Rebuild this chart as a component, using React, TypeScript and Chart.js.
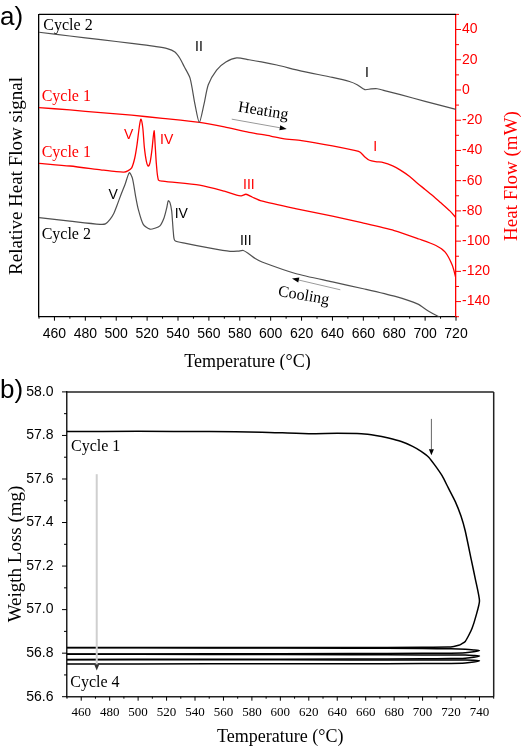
import React, { useEffect, useRef } from "react";
import { Chart, registerables } from "chart.js";
Chart.register(...registerables);

const SANS = '"Liberation Sans", Arial, sans-serif';
const SERIF = '"Liberation Serif", "Times New Roman", serif';
const RED = "#ff0000";
const GRAY = "#505050";
const BLACK = "#000000";

// ---------------- Panel a: DSC heat flow (mW) vs temperature (°C)
const heat2Temp = [450, 470, 490, 510, 525, 533, 538, 541.3, 544, 547.8, 551, 553.8, 556.8, 559.6, 565, 571, 578, 586, 594, 604, 620, 640, 651, 656, 661, 665, 669, 675, 684, 700, 720];
const heat2Flow = [38.2, 35.7, 33.3, 30.8, 28.8, 27.4, 25.1, 20.8, 15.5, 7.8, -9.6, -21.5, -9.6, 3.5, 13.2, 18.5, 21.2, 20.0, 18.6, 16.5, 12.5, 8.3, 5.6, 3.5, 0.2, 0.7, 0.8, -0.8, -3.1, -7.5, -12.8];

const heat1Temp = [450, 470, 490, 510, 530, 554, 570, 586, 600, 608, 620, 640, 655, 658, 661, 664, 668, 673, 679, 684, 690, 695, 700, 705, 710, 716, 720];
const heat1Flow = [-11.7, -13.2, -15.0, -16.7, -18.8, -21.5, -24.4, -28.0, -30.5, -32.2, -33.5, -37.0, -40.2, -41.2, -44.3, -46.5, -47.4, -48.0, -50.2, -53.0, -57.2, -61.7, -65.8, -70.0, -74.5, -80.0, -84.5];

const cool1Temp = [450, 470, 490, 500, 505, 507.5, 510, 512, 513.5, 515, 516, 517.2, 518.2, 519.5, 520.8, 522, 523.2, 524.5, 525.3, 526, 527.3, 530, 554, 570, 578, 581, 584, 588, 594, 616, 640, 659, 680, 696, 707, 713, 717.6, 720];
const cool1Flow = [-48.5, -50.3, -52.8, -54.0, -54.3, -53.5, -51.5, -45, -36, -24, -19.3, -25, -37.8, -47, -50.4, -47.5, -39, -27, -38, -49, -59.5, -60.3, -63.0, -67.0, -69.6, -70.0, -69.0, -70.8, -73.4, -78.5, -83.5, -87.8, -93.0, -98.6, -102.9, -107.3, -116.0, -124.7];

const cool2Temp = [450, 470, 489.5, 493, 496, 498.5, 500.3, 503, 505.7, 508.5, 510.5, 512.5, 514.3, 517.5, 521.9, 525, 528.3, 531, 532.7, 533.7, 534.8, 535.9, 537, 538, 545, 560, 573.7, 579, 582.3, 586, 590, 594.4, 616, 640, 660, 680.7, 695, 702.3, 708, 712];
const cool2Flow = [-84.5, -86.8, -88.9, -88.6, -85.6, -81.5, -76.9, -69.5, -62.5, -54.7, -58.5, -70, -79, -88.9, -92.1, -91.5, -89.9, -84.5, -78.0, -73.3, -74.5, -80, -94.3, -99.7, -101.5, -104.5, -106.8, -106.6, -106.2, -108.5, -111.5, -113.8, -121.4, -127, -131.5, -136.6, -141.5, -146.4, -149.5, -151];

const aRightTickLabels = [-140, -120, -100, -80, -60, -40, -20, 0, 20, 40];
const aTempTickLabels = [460, 480, 500, 520, 540, 560, 580, 600, 620, 640, 660, 680, 700, 720];

// ---------------- Panel b: TGA weight (mg) vs temperature (°C)
const cyc1Temp = [450, 500, 550, 587, 620, 640, 657, 667, 676, 685, 693, 699, 704.3, 709, 713.7, 718, 723, 727, 730, 734.3, 737.2, 740, 737.5, 734.8, 732.3, 730, 727.5, 725.4, 722, 718, 700, 650, 600, 550, 500, 450];
const cyc1Weight = [57.818, 57.819, 57.818, 57.815, 57.808, 57.81, 57.808, 57.8, 57.788, 57.772, 57.75, 57.727, 57.7, 57.66, 57.615, 57.56, 57.496, 57.43, 57.361, 57.227, 57.137, 57.04, 56.97, 56.914, 56.88, 56.854, 56.843, 56.836, 56.831, 56.828, 56.827, 56.826, 56.826, 56.826, 56.826, 56.826];

const loopTemp = [450, 550, 650, 700, 720, 730, 736, 740, 736, 730, 720, 700, 650, 550, 450];
const cyc2Weight = [56.825, 56.824, 56.823, 56.821, 56.82, 56.818, 56.815, 56.812, 56.806, 56.802, 56.8, 56.799, 56.798, 56.797, 56.796];
const cyc3Weight = [56.795, 56.794, 56.793, 56.792, 56.792, 56.791, 56.789, 56.787, 56.781, 56.777, 56.775, 56.774, 56.773, 56.772, 56.771];
const cyc4Weight = [56.77, 56.77, 56.769, 56.769, 56.769, 56.768, 56.767, 56.765, 56.759, 56.755, 56.753, 56.752, 56.751, 56.751, 56.75];

const bWeightTickLabels = [56.6, 56.8, 57.0, 57.2, 57.4, 57.6, 57.8, 58.0];
const bTempTickLabels = [460, 480, 500, 520, 540, 560, 580, 600, 620, 640, 660, 680, 700, 720, 740];

// ---------------- Annotations (data coordinates)
type Note = { text: string; x: number; y: number; color: string; font: string; align?: CanvasTextAlign; rot?: number };
type Arrow = { x1: number; y1: number; x2: number; y2: number; color: string; width: number; head: string; len?: number; hw?: number };

const ROMAN = `14px ${SANS}`;
const CYC = `16px ${SERIF}`;
const aNotes: Note[] = [
  { text: "Cycle 2", x: 452.8, y: 42.7, color: BLACK, font: CYC, align: "left" },
  { text: "II", x: 553.6, y: 28.4, color: BLACK, font: ROMAN },
  { text: "I", x: 662.4, y: 11.1, color: BLACK, font: ROMAN },
  { text: "Cycle 1", x: 451.7, y: -4.7, color: RED, font: CYC, align: "left" },
  { text: "Heating", x: 595.2, y: -14.1, color: BLACK, font: CYC, rot: 9 },
  { text: "I", x: 667.6, y: -38.0, color: RED, font: ROMAN },
  { text: "Cycle 1", x: 451.7, y: -41.4, color: RED, font: CYC, align: "left" },
  { text: "V", x: 508.1, y: -30.2, color: RED, font: ROMAN },
  { text: "IV", x: 532.7, y: -33.5, color: RED, font: ROMAN },
  { text: "III", x: 585.9, y: -62.8, color: RED, font: ROMAN },
  { text: "V", x: 498.1, y: -69.3, color: BLACK, font: ROMAN },
  { text: "IV", x: 542.1, y: -82.3, color: BLACK, font: ROMAN },
  { text: "III", x: 583.9, y: -99.7, color: BLACK, font: ROMAN },
  { text: "Cycle 2", x: 451.7, y: -95.6, color: BLACK, font: CYC, align: "left" },
  { text: "Cooling", x: 621.4, y: -136.3, color: BLACK, font: CYC, rot: 10 },
];
const aArrows: Arrow[] = [
  { x1: 574.8, y1: -19.3, x2: 610.4, y2: -25.8, color: "#9a9a9a", width: 1, head: BLACK },
  { x1: 645.1, y1: -132.2, x2: 613.8, y2: -124.7, color: "#9a9a9a", width: 1, head: BLACK },
];
const bNotes: Note[] = [
  { text: "Cycle 1", x: 452.8, y: 57.749, color: BLACK, font: CYC, align: "left" },
  { text: "Cycle 4", x: 452.3, y: 56.664, color: BLACK, font: CYC, align: "left" },
];
const bArrows: Arrow[] = [
  { x1: 470.9, y1: 57.622, x2: 470.9, y2: 56.72, color: "#cfcfcf", width: 2, head: "#333", len: 6, hw: 2.5 },
  { x1: 706.2, y1: 57.876, x2: 706.2, y2: 57.709, color: "#666", width: 1, head: BLACK, len: 6, hw: 2.5 },
];

type Title = { text: string; x: number; y: number; font: string; color: string; rot?: number; align?: CanvasTextAlign };
type TickSpec = { id: string; major: (v: number) => boolean; majorLen: number; minorLen: number; color: string };

const pts = (xs: number[], ys: number[]) => xs.map((x, i) => ({ x, y: ys[i] }));

function drawArrow(ctx: CanvasRenderingContext2D, a: Arrow, x1: number, y1: number, x2: number, y2: number) {
  const len = a.len ?? 7;
  const hw = a.hw ?? 2.5;
  const ang = Math.atan2(y2 - y1, x2 - x1);
  const c = Math.cos(ang), s = Math.sin(ang);
  ctx.save();
  ctx.strokeStyle = a.color;
  ctx.lineWidth = a.width;
  ctx.beginPath();
  ctx.moveTo(x1, y1);
  ctx.lineTo(x2 - len * c, y2 - len * s);
  ctx.stroke();
  ctx.fillStyle = a.head;
  ctx.beginPath();
  ctx.moveTo(x2, y2);
  ctx.lineTo(x2 - len * c + hw * s, y2 - len * s - hw * c);
  ctx.lineTo(x2 - len * c - hw * s, y2 - len * s + hw * c);
  ctx.closePath();
  ctx.fill();
  ctx.restore();
}

function decor(opts: {
  xId: string; yId: string; notes: Note[]; arrows: Arrow[]; titles: Title[]; ticks: TickSpec[];
  frame: { top?: boolean; right?: boolean; color: string; width: number };
}) {
  return {
    id: "decor",
    afterDraw(chart: any) {
      const ctx: CanvasRenderingContext2D = chart.ctx;
      const area = chart.chartArea;
      const xs = chart.scales[opts.xId];
      const ys = chart.scales[opts.yId];
      ctx.save();
      // frame
      ctx.strokeStyle = opts.frame.color;
      ctx.lineWidth = opts.frame.width;
      if (opts.frame.top) {
        ctx.beginPath();
        ctx.moveTo(area.left, area.top);
        ctx.lineTo(area.right, area.top);
        ctx.stroke();
      }
      if (opts.frame.right) {
        ctx.beginPath();
        ctx.moveTo(area.right, area.top);
        ctx.lineTo(area.right, area.bottom);
        ctx.stroke();
      }
      // ticks
      for (const t of opts.ticks) {
        const sc = chart.scales[t.id];
        ctx.strokeStyle = t.color;
        ctx.lineWidth = 1;
        for (const tk of sc.ticks) {
          const L = t.major(tk.value) ? t.majorLen : t.minorLen;
          const p = sc.getPixelForValue(tk.value);
          ctx.beginPath();
          if (sc.isHorizontal()) {
            ctx.moveTo(p, area.bottom);
            ctx.lineTo(p, area.bottom + L);
          } else if (sc.position === "left") {
            ctx.moveTo(area.left, p);
            ctx.lineTo(area.left - L, p);
          } else {
            ctx.moveTo(area.right, p);
            ctx.lineTo(area.right + L, p);
          }
          ctx.stroke();
        }
      }
      // titles
      for (const ti of opts.titles) {
        ctx.save();
        ctx.translate(ti.x, ti.y);
        if (ti.rot) ctx.rotate((ti.rot * Math.PI) / 180);
        ctx.font = ti.font;
        ctx.fillStyle = ti.color;
        ctx.textAlign = ti.align ?? "center";
        ctx.textBaseline = "middle";
        ctx.fillText(ti.text, 0, 0);
        ctx.restore();
      }
      // arrows
      for (const a of opts.arrows) {
        drawArrow(ctx, a, xs.getPixelForValue(a.x1), ys.getPixelForValue(a.y1), xs.getPixelForValue(a.x2), ys.getPixelForValue(a.y2));
      }
      // notes
      for (const n of opts.notes) {
        ctx.save();
        ctx.translate(xs.getPixelForValue(n.x), ys.getPixelForValue(n.y));
        if (n.rot) ctx.rotate((n.rot * Math.PI) / 180);
        ctx.font = n.font;
        ctx.fillStyle = n.color;
        ctx.textAlign = n.align ?? "center";
        ctx.textBaseline = "middle";
        ctx.fillText(n.text, 0, 0);
        ctx.restore();
      }
      ctx.restore();
    },
  };
}

const line = (data: { x: number; y: number }[], color: string, width: number, tension: number) => ({
  data,
  showLine: true,
  borderColor: color,
  backgroundColor: color,
  borderWidth: width,
  pointRadius: 0,
  tension,
  fill: false,
});

function configA(): any {
  const is20 = (v: number) => Math.round(v) % 20 === 0;
  return {
    type: "scatter",
    data: {
      datasets: [
        line(pts(heat2Temp, heat2Flow), GRAY, 1.2, 0.25),
        line(pts(heat1Temp, heat1Flow), RED, 1.3, 0.25),
        line(pts(cool1Temp, cool1Flow), RED, 1.3, 0.25),
        line(pts(cool2Temp, cool2Flow), GRAY, 1.2, 0.25),
      ],
    },
    options: {
      responsive: false,
      animation: false,
      devicePixelRatio: 1,
      events: [],
      layout: { padding: { top: 9, left: 0, right: 0, bottom: 0 } },
      plugins: { legend: { display: false }, tooltip: { enabled: false } },
      scales: {
        x: {
          type: "linear",
          min: 450,
          max: 720,
          ticks: {
            stepSize: 10,
            autoSkip: false,
            maxRotation: 0,
            padding: 9,
            color: BLACK,
            font: { family: SANS, size: 14 },
            callback: (v: number) => (aTempTickLabels.includes(Math.round(v)) ? String(Math.round(v)) : ""),
          },
          grid: { display: true, drawOnChartArea: false, drawTicks: false },
          border: { color: BLACK, width: 1.3 },
          afterFit: (s: any) => { s.height = 53.3; },
        },
        y: {
          type: "linear",
          position: "right",
          min: -150,
          max: 50,
          ticks: {
            stepSize: 10,
            autoSkip: false,
            padding: 6,
            color: RED,
            font: { family: SANS, size: 14 },
            callback: (v: number) => (aRightTickLabels.includes(Math.round(v)) ? String(Math.round(v)) : ""),
          },
          grid: { display: true, drawOnChartArea: false, drawTicks: false },
          border: { color: RED, width: 1.3 },
          afterFit: (s: any) => { s.width = 68; },
        },
        yL: {
          type: "linear",
          position: "left",
          min: -150,
          max: 50,
          ticks: { display: false },
          grid: { display: true, drawOnChartArea: false, drawTicks: false },
          border: { color: BLACK, width: 1.3 },
          afterFit: (s: any) => { s.width = 39; },
        },
      },
    },
    plugins: [
      decor({
        xId: "x",
        yId: "y",
        notes: aNotes,
        arrows: aArrows,
        frame: { top: true, color: BLACK, width: 1.3 },
        ticks: [
          { id: "x", major: is20, majorLen: 4, minorLen: 2, color: BLACK },
          { id: "y", major: is20, majorLen: 5, minorLen: 3, color: RED },
        ],
        titles: [
          { text: "Temperature (°C)", x: 247.5, y: 362, font: `18px ${SERIF}`, color: BLACK },
          { text: "Relative Heat Flow signal", x: 17, y: 176, font: `19px ${SERIF}`, color: BLACK, rot: -90 },
          { text: "Heat Flow (mW)", x: 512, y: 176, font: `19px ${SERIF}`, color: RED, rot: -90 },
          { text: "a)", x: 0, y: 17.5, font: `26px ${SANS}`, color: BLACK, align: "left" },
        ],
      }),
    ],
  };
}

function configB(): any {
  const isMajorW = (v: number) => Math.round(v * 10) % 2 === 0;
  const is20 = (v: number) => Math.round(v) % 20 === 0;
  return {
    type: "scatter",
    data: {
      datasets: [
        line(pts(cyc1Temp, cyc1Weight), BLACK, 1.5, 0.2),
        line(pts(loopTemp, cyc2Weight), BLACK, 1.5, 0.2),
        line(pts(loopTemp, cyc3Weight), BLACK, 1.5, 0.2),
        line(pts(loopTemp, cyc4Weight), BLACK, 1.5, 0.2),
      ],
    },
    options: {
      responsive: false,
      animation: false,
      devicePixelRatio: 1,
      events: [],
      layout: { padding: { top: 14, left: 0, right: 30.3, bottom: 0 } },
      plugins: { legend: { display: false }, tooltip: { enabled: false } },
      scales: {
        x: {
          type: "linear",
          min: 450,
          max: 750,
          ticks: {
            stepSize: 10,
            autoSkip: false,
            maxRotation: 0,
            padding: 8.5,
            color: BLACK,
            font: { family: SERIF, size: 13 },
            callback: (v: number) => (bTempTickLabels.includes(Math.round(v)) ? String(Math.round(v)) : ""),
          },
          grid: { display: true, drawOnChartArea: false, drawTicks: false },
          border: { color: "#222", width: 1.5 },
          afterFit: (s: any) => { s.height = 51.3; },
        },
        y: {
          type: "linear",
          position: "left",
          min: 56.6,
          max: 58.0,
          ticks: {
            stepSize: 0.1,
            autoSkip: false,
            padding: 13.5,
            color: BLACK,
            font: { family: SANS, size: 14 },
            callback: (v: number) => {
              const r = Math.round(v * 10) / 10;
              return bWeightTickLabels.some((b) => Math.abs(b - r) < 1e-6) ? r.toFixed(1) : "";
            },
          },
          grid: { display: true, drawOnChartArea: false, drawTicks: false },
          border: { color: "#222", width: 1.5 },
          afterFit: (s: any) => { s.width = 67; },
        },
      },
    },
    plugins: [
      decor({
        xId: "x",
        yId: "y",
        notes: bNotes,
        arrows: bArrows,
        frame: { top: true, right: true, color: "#222", width: 1.5 },
        ticks: [
          { id: "x", major: is20, majorLen: 4, minorLen: 2, color: BLACK },
          { id: "y", major: isMajorW, majorLen: 5, minorLen: 3, color: BLACK },
        ],
        titles: [
          { text: "Temperature (°C)", x: 280.3, y: 367, font: `18px ${SERIF}`, color: BLACK },
          { text: "Weigth Loss (mg)", x: 16, y: 184, font: `19px ${SERIF}`, color: BLACK, rot: -90 },
          { text: "b)", x: 0, y: 20.7, font: `26px ${SANS}`, color: BLACK, align: "left" },
        ],
      }),
    ],
  };
}

export default function App() {
  const refA = useRef<HTMLCanvasElement>(null);
  const refB = useRef<HTMLCanvasElement>(null);
  useEffect(() => {
    Chart.defaults.font.family = SANS;
    const a = new Chart(refA.current as HTMLCanvasElement, configA());
    const b = new Chart(refB.current as HTMLCanvasElement, configB());
    return () => {
      a.destroy();
      b.destroy();
    };
  }, []);
  return (
    <div style={{ position: "absolute", left: 0, top: 0, width: 524, height: 748, background: "#fff" }}>
      <canvas ref={refA} width={524} height={370} style={{ position: "absolute", left: 0, top: 0, width: 524, height: 370 }} />
      <canvas ref={refB} width={524} height={378} style={{ position: "absolute", left: 0, top: 370, width: 524, height: 378 }} />
    </div>
  );
}
